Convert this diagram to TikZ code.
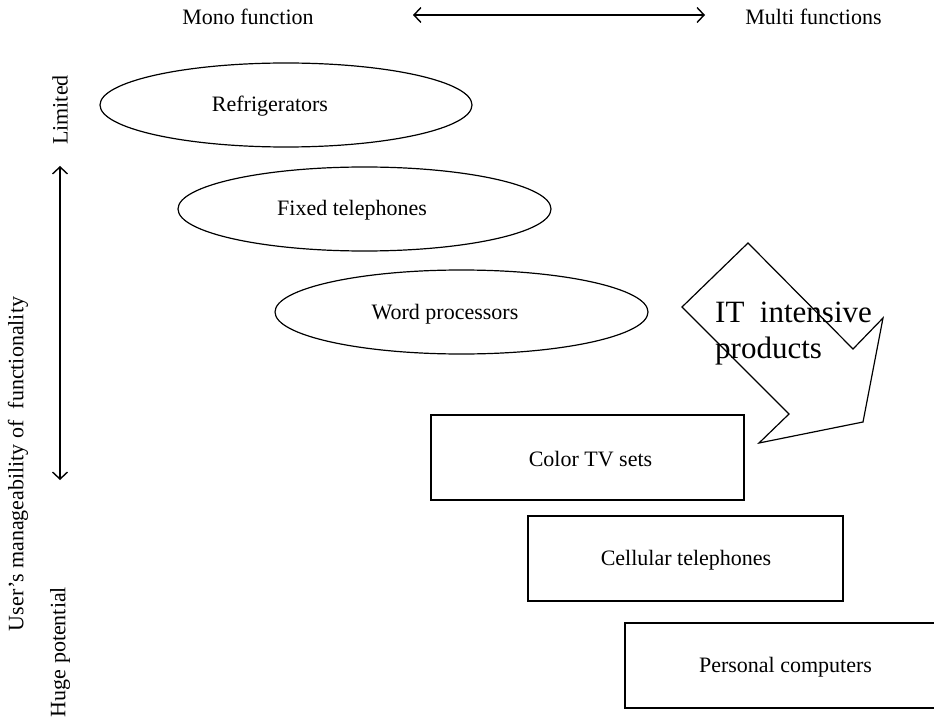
\documentclass[tikz,border=0pt]{standalone}
\usepackage{fontspec}
\setmainfont{Liberation Serif}
\usetikzlibrary{shapes.geometric,arrows.meta}
\begin{document}
\begin{tikzpicture}[x=1pt,y=-1pt,
  every node/.style={font=\fontsize{22}{26}\selectfont, inner sep=0pt},
  ell/.style={draw, ellipse, line width=1.2pt},
  box/.style={draw, rectangle, line width=1.2pt},
  dblarrow/.style={line width=1.4pt, {Straight Barb[length=7pt,width=15pt]}-{Straight Barb[length=7pt,width=15pt]}},
  bigarrow/.style={draw, line width=1.2pt, line join=miter}
]
\useasboundingbox (0,0) rectangle (934,722);
\clip (0,0) rectangle (934,722);

% top axis
\node (mono) at (248,17) {Mono function};
\node (multi) at (813.5,17) {Multi functions};
\coordinate (hl) at (413,15);
\coordinate (hr) at (705,15);
\draw[dblarrow] (hl) -- (hr);

% left axis
\node[rotate=90] (lim) at (60,110) {Limited};
\node[rotate=90] (huge) at (60,652) {Huge potential};
\node[rotate=90] (user) at (18,464) {User's manageability of\ \ functionality};
\coordinate (vt) at (60,166);
\coordinate (vb) at (60,480);
\draw[dblarrow] (vt) -- (vb);

% ellipses
\node[ell, minimum width=372, minimum height=84] (refe) at (286,105) {};
\node (reft) at (270,106) {Refrigerators};
\node[ell, minimum width=373, minimum height=84] (fixe) at (364.5,209) {};
\node (fixt) at (352,210) {Fixed telephones};
\node[ell, minimum width=373, minimum height=84] (worde) at (461.5,312) {};
\node (wordt) at (445,314) {Word processors};

% boxes
\node[box, minimum width=313, minimum height=85] (ctv) at (587.5,457.5) {};
\node (ctvt) at (590.5,459) {Color TV sets};
\node[box, minimum width=315, minimum height=85] (cell) at (685.5,558.5) {};
\node (cellt) at (686,560) {Cellular telephones};
\node[box, minimum width=340, minimum height=85] (pc) at (795,665.5) {};
\node (pct) at (785.5,667) {Personal computers};

% big arrow
\draw[bigarrow] (748,243) -- (853,349) -- (883,318) -- (863,422) -- (759,443) -- (789,414) -- (682,307) -- cycle;
\node[anchor=base west, font=\fontsize{31}{36}\selectfont] (it1) at (715,322) {IT\ \ intensive};
\node[anchor=base west, font=\fontsize{31}{36}\selectfont] (it2) at (715,358) {products};
\end{tikzpicture}
\end{document}
